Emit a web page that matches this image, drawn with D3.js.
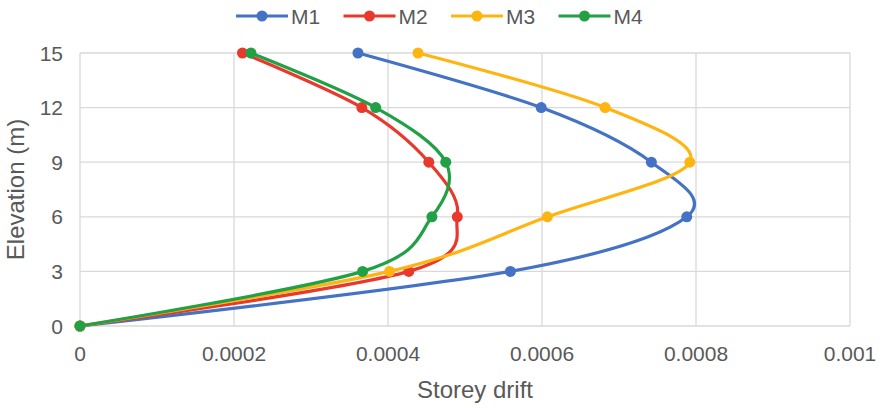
<!DOCTYPE html>
<html>
<head>
<meta charset="utf-8">
<script src="https://cdn.jsdelivr.net/npm/d3@7"></script>
<style>
  body { margin: 0; background: #fff; }
  svg { font-family: "Liberation Sans", Arial, sans-serif; }
</style>
</head>
<body>
<div class="vis-chart"></div>
<script>
const elevation = [0, 3, 6, 9, 12, 15];
const seriesNames = ["M1", "M2", "M3", "M4"];
const m1 = [0, 0.000559, 0.000788, 0.000742, 0.000599, 0.000361];
const m2 = [0, 0.000427, 0.000490, 0.000453, 0.000366, 0.000211];
const m3 = [0, 0.000402, 0.000607, 0.000792, 0.000682, 0.000439];
const m4 = [0, 0.000367, 0.000457, 0.000475, 0.000384, 0.000222];
const xTicks = [0, 0.0002, 0.0004, 0.0006, 0.0008, 0.001];
const yTicks = [0, 3, 6, 9, 12, 15];
const colors = ["#4472C4", "#E8392C", "#FFB511", "#22A046"];

const allSeries = [m1, m2, m3, m4];

const W = 882, H = 408;
const margin = { top: 53, right: 32, bottom: 82, left: 80 };
const width = W - margin.left - margin.right;
const height = H - margin.top - margin.bottom;

const svg = d3.select('.vis-chart')
    .append('svg')
    .attr('width', W)
    .attr('height', H);

const g = svg.append('g')
    .attr('transform', 'translate(' + margin.left + ',' + margin.top + ')');

const x = d3.scaleLinear().domain([0, 0.001]).range([0, width]);
const y = d3.scaleLinear().domain([0, 15]).range([height, 0]);

// grid
g.selectAll('.vgrid')
    .data(xTicks)
    .enter().append('line')
    .attr('x1', d => x(d)).attr('x2', d => x(d))
    .attr('y1', 0).attr('y2', height)
    .attr('stroke', '#d9d9d9').attr('stroke-width', 1.3);

g.selectAll('.hgrid')
    .data(yTicks)
    .enter().append('line')
    .attr('x1', 0).attr('x2', width)
    .attr('y1', d => y(d)).attr('y2', d => y(d))
    .attr('stroke', '#d9d9d9').attr('stroke-width', 1.3);

// tick labels
g.selectAll('.xlab')
    .data(xTicks)
    .enter().append('text')
    .attr('x', d => x(d))
    .attr('y', height + 35)
    .attr('text-anchor', 'middle')
    .style('font-size', '21px')
    .attr('fill', '#595959')
    .text(d => d === 0 ? '0' : String(+d.toFixed(4)));

g.selectAll('.ylab')
    .data(yTicks)
    .enter().append('text')
    .attr('x', -17)
    .attr('y', d => y(d) + 7.5)
    .attr('text-anchor', 'end')
    .style('font-size', '21px')
    .attr('fill', '#595959')
    .text(d => d);

// axis titles
svg.append('text')
    .attr('x', margin.left + width / 2 + 10)
    .attr('y', 398)
    .attr('text-anchor', 'middle')
    .style('font-size', '24px')
    .attr('fill', '#595959')
    .text('Storey drift');

svg.append('text')
    .attr('transform', 'translate(24,' + (margin.top + height / 2) + ') rotate(-90)')
    .attr('text-anchor', 'middle')
    .style('font-size', '24px')
    .attr('fill', '#595959')
    .text('Elevation (m)');

// lines (smoothed, like the spreadsheet's smoothed lines)
const line = d3.line()
    .x(d => x(d[0]))
    .y(d => y(d[1]))
    .curve(d3.curveCatmullRom.alpha(0));

allSeries.forEach((s, i) => {
    const pts = s.map((v, j) => [v, elevation[j]]);
    g.append('path')
        .datum(pts)
        .attr('d', line)
        .attr('fill', 'none')
        .attr('stroke', colors[i])
        .attr('stroke-width', 3.2);
    g.selectAll('.pt' + i)
        .data(pts)
        .enter().append('circle')
        .attr('cx', d => x(d[0]))
        .attr('cy', d => y(d[1]))
        .attr('r', 5.5)
        .attr('fill', colors[i]);
});

// legend
const legendG = svg.selectAll('.legend')
    .data(seriesNames)
    .enter().append('g')
    .attr('class', 'legend')
    .attr('transform', (d, i) => 'translate(' + (236 + i * 107.5) + ',16)');

legendG.append('line')
    .attr('x1', 0).attr('x2', 52)
    .attr('stroke', (d, i) => colors[i])
    .attr('stroke-width', 3.2);

legendG.append('circle')
    .attr('cx', 26).attr('r', 5.5)
    .attr('fill', (d, i) => colors[i]);

legendG.append('text')
    .attr('x', 55)
    .attr('y', 7.5)
    .style('font-size', '21px')
    .attr('fill', '#595959')
    .text(d => d);
</script>
</body>
</html>
